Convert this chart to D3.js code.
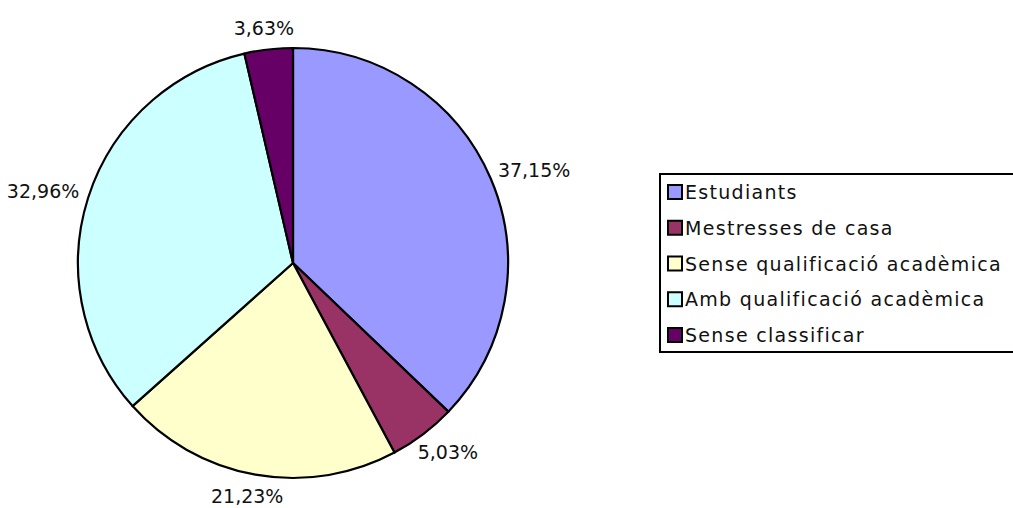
<!DOCTYPE html>
<head>
    <meta charset="utf-8">
    <title>Distribució per categories</title>
    <style>
        body { margin: 0; background: #fff; }
        text { font-family: "DejaVu Sans", sans-serif; fill: #111; }
    </style>
</head>
<body>
    <script src="https://d3js.org/d3.v7.min.js"></script>
    <script>

        var width = 1013,
            height = 508;

        // chart values
        var categories = ["Estudiants", "Mestresses de casa", "Sense qualificació acadèmica",
            "Amb qualificació acadèmica", "Sense classificar"];
        var values = [37.15, 5.03, 21.23, 32.96, 3.63];
        var labels = ["37,15%", "5,03%", "21,23%", "32,96%", "3,63%"];
        var colors = ["#9999FF", "#993366", "#FFFFCC", "#CCFFFF", "#660066"];

        var cx = 293, cy = 263, radius = 215;

        var color = d3.scaleOrdinal().domain(categories).range(colors);

        var svg = d3.select("body").append("svg")
            .attr("width", width)
            .attr("height", height);

        var pie = d3.pie()
            .sort(null)
            .value(function (d) { return d.value; });

        var arc = d3.arc()
            .innerRadius(0)
            .outerRadius(radius);

        var data = categories.map(function (c, i) {
            return { name: c, value: values[i], label: labels[i] };
        });

        var g = svg.append("g")
            .attr("transform", "translate(" + cx + "," + cy + ")");

        var arcs = pie(data);

        g.selectAll("path")
            .data(arcs)
            .enter().append("path")
            .attr("d", arc)
            .attr("fill", function (d) { return color(d.data.name); })
            .style("stroke", "#000")
            .style("stroke-width", "2.2px")
            .style("stroke-linejoin", "round");

        // percent labels, pushed out so the box edge touches a point just outside the rim
        var labelR = 226;
        g.selectAll("text.pct")
            .data(arcs)
            .enter().append("text")
            .attr("class", "pct")
            .style("font-size", "19px")
            .attr("text-anchor", "middle")
            .attr("dominant-baseline", "central")
            .text(function (d) { return d.data.label; })
            .each(function (d) {
                var a = (d.startAngle + d.endAngle) / 2;
                var bb = this.getBBox();
                var px = Math.sin(a) * labelR,
                    py = -Math.cos(a) * labelR;
                d3.select(this)
                    .attr("x", px + Math.sin(a) * bb.width / 2)
                    .attr("y", py - Math.cos(a) * bb.height / 2);
            });

        // legend
        var legend = svg.append("g")
            .attr("transform", "translate(660,174)");

        legend.append("rect")
            .attr("x", 0)
            .attr("y", 0)
            .attr("width", 370)
            .attr("height", 178)
            .attr("fill", "#fff")
            .style("stroke", "#000")
            .style("stroke-width", "2px");

        var rowY = d3.scaleLinear().domain([0, 4]).range([18, 161]);

        var item = legend.selectAll("g.item")
            .data(categories)
            .enter().append("g")
            .attr("class", "item")
            .attr("transform", function (d, i) { return "translate(0," + rowY(i) + ")"; });

        item.append("rect")
            .attr("x", 8)
            .attr("y", -7)
            .attr("width", 14)
            .attr("height", 14)
            .attr("fill", function (d) { return color(d); })
            .style("stroke", "#000")
            .style("stroke-width", "2px");

        item.append("text")
            .attr("x", 25)
            .attr("y", 0)
            .attr("dominant-baseline", "central")
            .style("font-size", "19px")
            .style("letter-spacing", "1.3px")
            .text(function (d) { return d; });

    </script>
</body>
